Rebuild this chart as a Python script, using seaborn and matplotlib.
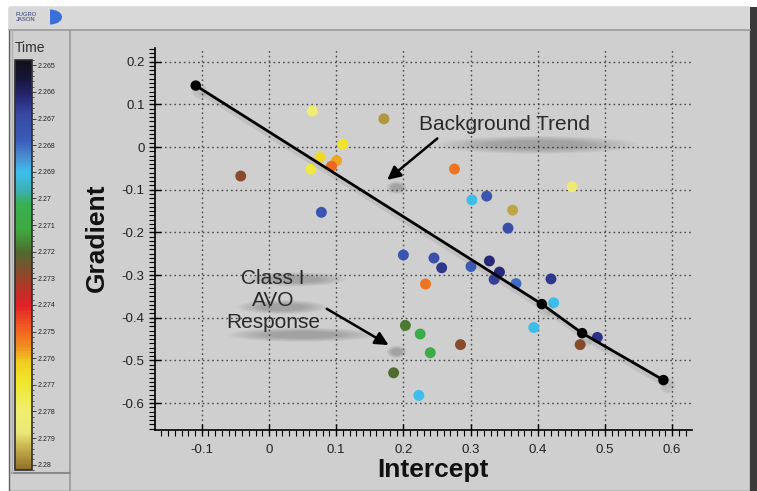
import numpy as np
import pandas as pd
import matplotlib
matplotlib.use('Agg')
import matplotlib.pyplot as plt
import seaborn as sns
from matplotlib.colors import LinearSegmentedColormap, Normalize
from matplotlib.patches import Rectangle, Ellipse
from matplotlib.lines import Line2D
from matplotlib.ticker import MultipleLocator, FuncFormatter
import matplotlib.patheffects as pe

# Dados (Intercept x Gradient, cor = Time)
intercept = [0.0645, 0.171, 0.110, 0.076, 0.1007, 0.093, 0.0625, -0.042, 0.078,
             0.200, 0.2455, 0.257, 0.233, 0.203, 0.225, 0.240, 0.1855, 0.223,
             0.276, 0.451, 0.302, 0.324, 0.3626, 0.3557, 0.3006, 0.328, 0.343,
             0.335, 0.3676, 0.4196, 0.4236, 0.394, 0.4886, 0.463, 0.285]
gradient = [0.084, 0.066, 0.007, -0.024, -0.032, -0.045, -0.052, -0.068, -0.153,
            -0.253, -0.260, -0.283, -0.321, -0.418, -0.438, -0.482, -0.529, -0.582,
            -0.0515, -0.093, -0.124, -0.115, -0.148, -0.190, -0.280, -0.267, -0.293,
            -0.310, -0.320, -0.309, -0.365, -0.423, -0.446, -0.463, -0.463]
time = [2.2780, 2.2797, 2.2768, 2.2765, 2.2758, 2.2750, 2.2772, 2.2728, 2.2675,
        2.2675, 2.2672, 2.2665, 2.2752, 2.2718, 2.2707, 2.2707, 2.2720, 2.2690,
        2.2752, 2.2785, 2.2690, 2.2675, 2.2795, 2.2672, 2.2677, 2.2662, 2.2662,
        2.2667, 2.2680, 2.2665, 2.2690, 2.2690, 2.2664, 2.2728, 2.2728]

# Linha de tendência
trend_x = [-0.109, 0.406, 0.466, 0.587]
trend_y = [0.144, -0.368, -0.436, -0.546]

# Escala de cores (Time)
cmap_times = [2.2648, 2.2655, 2.2662, 2.2668, 2.2678, 2.2684, 2.2690, 2.2697, 2.2702,
              2.2712, 2.2720, 2.2728, 2.2735, 2.2740, 2.2748, 2.2756, 2.2762, 2.2770,
              2.2780, 2.2788, 2.2795, 2.2802]
cmap_colors = ['#101018', '#16163a', '#28287a', '#3848a0', '#3a5cb8', '#4a8ad0', '#3cc0ec',
               '#3cb0b0', '#38b050', '#40a840', '#506a30', '#8a4a2c', '#c03028', '#e02028',
               '#f05820', '#f09020', '#f0d020', '#f0e830', '#f0ee70', '#ece878', '#c0a848',
               '#907028']
vmin, vmax = cmap_times[0], cmap_times[-1]
cmap = LinearSegmentedColormap.from_list(
    'time', [((t - vmin) / (vmax - vmin), c) for t, c in zip(cmap_times, cmap_colors)])
norm = Normalize(vmin, vmax)

df = pd.DataFrame({'Intercept': intercept, 'Gradient': gradient, 'Time': time})

sns.set_style('ticks')
plt.rcParams['font.family'] = ['Liberation Sans', 'DejaVu Sans']

W, H = 757, 491
fig = plt.figure(figsize=(W / 100, H / 100), dpi=100)
fig.patch.set_facecolor('white')

def fx(px):
    return px / W

def fy(py):
    return 1 - py / H

# Moldura / painéis
fig.add_artist(Rectangle((fx(9), 0), fx(750) - fx(9), fy(7), transform=fig.transFigure,
                         facecolor='#cfcfcf', edgecolor='#606060', lw=1, zorder=0))
fig.add_artist(Rectangle((fx(750), 0), fx(757) - fx(750), fy(7), transform=fig.transFigure,
                         facecolor='#3a3a3a', edgecolor='none', zorder=0))
fig.add_artist(Rectangle((fx(9), fy(30)), fx(750) - fx(9), fy(7) - fy(30), transform=fig.transFigure,
                         facecolor='#d8d8d8', edgecolor='none', zorder=0))
fig.add_artist(Line2D([fx(9), fx(750)], [fy(30), fy(30)], transform=fig.transFigure,
                      color='#9a9a9a', lw=1.2))
fig.add_artist(Line2D([fx(70), fx(70)], [fy(30), 0], transform=fig.transFigure,
                      color='#9a9a9a', lw=1.2))
fig.add_artist(Line2D([fx(12), fx(70)], [fy(473), fy(473)], transform=fig.transFigure,
                      color='#8a8a8a', lw=1.5))
fig.add_artist(Line2D([fx(12), fx(12)], [fy(30), fy(473)], transform=fig.transFigure,
                      color='#b0b0b0', lw=1))
# Logo
fig.add_artist(Ellipse((fx(50), fy(17)), fx(24), fy(0) - fy(15), transform=fig.transFigure,
                       facecolor='#3a6fd8', edgecolor='none'))
fig.add_artist(Rectangle((fx(14), fy(26)), fx(36), fy(8) - fy(26), transform=fig.transFigure,
                         facecolor='#d8d8d8', edgecolor='none'))
fig.text(fx(16), fy(17), 'FUGRO\nJASON', fontsize=4.2, color='#2c3e70', ha='left', va='center',
         linespacing=0.9)

# Eixo principal
ax = fig.add_axes([fx(155), fy(430), fx(692) - fx(155), fy(48) - fy(430)])
ax.set_facecolor('none')

# sombras difusas sob os textos e pontas das setas
for (cx, cy, w, h) in [(0.40, 0.005, 0.20, 0.028), (0.04, -0.31, 0.10, 0.022),
                       (0.02, -0.375, 0.09, 0.022), (0.05, -0.44, 0.15, 0.022),
                       (0.19, -0.095, 0.02, 0.02), (0.19, -0.48, 0.02, 0.02)]:
    for k in np.linspace(1.0, 0.2, 9):
        ax.add_patch(Ellipse((cx, cy), w * (0.5 + k), h * (0.5 + k), facecolor='#3a3a3a',
                             edgecolor='none', alpha=0.035, zorder=1))

sns.scatterplot(data=df, x='Intercept', y='Gradient', hue='Time', palette=cmap, hue_norm=norm,
                s=62, edgecolor='none', legend=False, ax=ax, zorder=3)

shadow = [pe.SimpleLineShadow(offset=(3, -4), shadow_color='#404040', alpha=0.1, linewidth=4),
          pe.Normal()]
ax.plot(trend_x, trend_y, color='black', lw=2, marker='o', ms=6.5, zorder=4, path_effects=shadow)

ax.set_xlim(-0.1696, 0.6295)
ax.set_ylim(-0.663, 0.232)
ax.xaxis.set_major_locator(MultipleLocator(0.1))
ax.yaxis.set_major_locator(MultipleLocator(0.1))
ax.xaxis.set_minor_locator(MultipleLocator(0.01))
ax.yaxis.set_minor_locator(MultipleLocator(0.01))
fmt = FuncFormatter(lambda v, p: f'{round(v, 2):g}' if abs(v) > 1e-9 else '0')
ax.xaxis.set_major_formatter(fmt)
ax.yaxis.set_major_formatter(fmt)
ax.tick_params(which='major', direction='inout', length=8, width=1, colors='black',
               labelsize=9.5, labelcolor='#222222')
ax.tick_params(which='minor', direction='out', length=4, width=0.8, colors='black')
ax.tick_params(axis='x', pad=6)
ax.grid(True, which='major', ls=(0, (1.2, 2.2)), color='#4a4a4a', lw=1)
for s in ['top', 'right']:
    ax.spines[s].set_visible(False)
for s in ['left', 'bottom']:
    ax.spines[s].set_color('black')
    ax.spines[s].set_linewidth(1.2)
ax.set_xlabel('')
ax.set_ylabel('')

ax.text(0.35, 0.052, 'Background Trend', ha='center', va='center', fontsize=15,
        color='#2a2a2a', zorder=5)
ax.text(0.006, -0.36, 'Class I\nAVO\nResponse', ha='center', va='center', fontsize=15,
        color='#2a2a2a', linespacing=1.2, zorder=5)
arrow_kw = dict(arrowstyle='-|>', color='black', lw=1.8, mutation_scale=20, shrinkA=0, shrinkB=0)
ax.annotate('', xy=(0.176, -0.077), xytext=(0.2505, 0.020), arrowprops=arrow_kw, zorder=5)
ax.annotate('', xy=(0.178, -0.464), xytext=(0.086, -0.379), arrowprops=arrow_kw, zorder=5)

fig.text(fx(433), fy(470), 'Intercept', fontsize=19, fontweight='bold', ha='center',
         va='center', color='#111111')
fig.text(fx(97), fy(238), 'Gradient', fontsize=19, fontweight='bold', ha='center',
         va='center', rotation=90, color='#111111')

# Barra de cores
cax = fig.add_axes([fx(15), fy(470), fx(32) - fx(15), fy(60) - fy(470)])
sm = plt.cm.ScalarMappable(norm=norm, cmap=cmap)
cb = fig.colorbar(sm, cax=cax)
cb.set_ticks(np.round(np.arange(2.265, 2.28001, 0.001), 3))
cb.ax.yaxis.set_major_formatter(FuncFormatter(lambda v, p: f'{round(v, 3):g}'))
cb.ax.yaxis.set_minor_locator(MultipleLocator(0.0002))
cb.ax.tick_params(which='major', length=3, width=0.6, labelsize=5, pad=1, colors='#222222')
cb.ax.tick_params(which='minor', length=1.5, width=0.5, colors='#222222')
cb.outline.set_edgecolor('#303030')
cb.outline.set_linewidth(1.2)
cax.invert_yaxis()
fig.text(fx(15), fy(48), 'Time', fontsize=10, color='#303030', ha='left', va='center')

fig.savefig('out.png', dpi=100)
